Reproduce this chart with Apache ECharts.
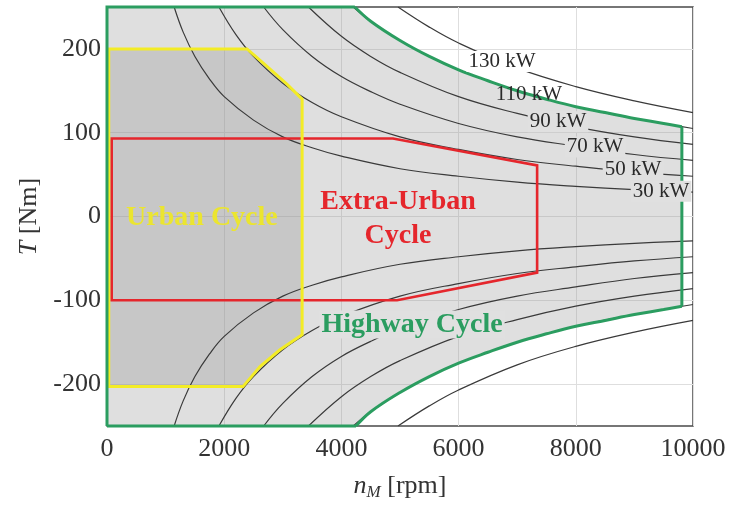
<!DOCTYPE html>
<html>
<head>
<meta charset="utf-8">
<script src="https://cdn.jsdelivr.net/npm/echarts@6/dist/echarts.min.js"></script>
<style>
html,body{margin:0;padding:0;background:#fff;}
#chart{width:732px;height:506px;}
</style>
</head>
<body>
<div id="chart"></div>
<script>
// ---------- data ----------
const xTickValues = [0, 2000, 4000, 6000, 8000, 10000];
const yTickValues = [-200, -100, 0, 100, 200];

// constant-power contour lines [speed rpm, torque Nm]
const p30Upper  = [[1146,250],[1300,220],[1500,191],[1750,164],[2000,143],[2500,115],[3000,95],[3500,82],[4000,72],[5000,57],[6000,48],[7000,41],[8000,36],[9000,32],[10000,29]];
const p50Upper  = [[1910,250],[2200,217],[2500,191],[3000,159],[3500,136],[4000,119],[5000,95],[6000,80],[7000,68],[8000,60],[9000,53],[10000,48]];
const p70Upper  = [[2674,250],[3000,223],[3500,191],[4000,167],[4500,149],[5000,134],[6000,111],[7000,95],[8000,84],[9000,74],[10000,67]];
const p90Upper  = [[3438,250],[4000,215],[4500,191],[5000,172],[6000,143],[7000,123],[8000,107],[9000,95],[10000,86]];
const p110Upper = [[4202,250],[4500,233],[5000,210],[5500,191],[6000,175],[7000,150],[8000,131],[9000,117],[10000,105]];
const p130Upper = [[4966,250],[5500,226],[6000,207],[7000,177],[8000,155],[9000,138],[10000,124]];
const p30Lower  = [[1146,-250],[1300,-220],[1500,-191],[1750,-164],[2000,-143],[2500,-115],[3000,-95],[3500,-82],[4000,-72],[5000,-57],[6000,-48],[7000,-41],[8000,-36],[9000,-32],[10000,-29]];
const p50Lower  = [[1910,-250],[2200,-217],[2500,-191],[3000,-159],[3500,-136],[4000,-119],[5000,-95],[6000,-80],[7000,-68],[8000,-60],[9000,-53],[10000,-48]];
const p70Lower  = [[2674,-250],[3000,-223],[3500,-191],[4000,-167],[4500,-149],[5000,-134],[6000,-111],[7000,-95],[8000,-84],[9000,-74],[10000,-67]];
const p90Lower  = [[3438,-250],[4000,-215],[4500,-191],[5000,-172],[6000,-143],[7000,-123],[8000,-107],[9000,-95],[10000,-86]];
const p110Lower = [[4202,-250],[4500,-233],[5000,-210],[5500,-191],[6000,-175],[7000,-150],[8000,-131],[9000,-117],[10000,-105]];
const p130Lower = [[4966,-250],[5500,-226],[6000,-207],[7000,-177],[8000,-155],[9000,-138],[10000,-124]];

const powerLabels = ['130 kW', '110 kW', '90 kW', '70 kW', '50 kW', '30 kW'];
const powerLabelAnchors = [[6741,185],[7201,146],[7696,113],[8328,83],[8976,56],[9454,30]];

// operating regions [rpm, Nm]
const highwayUpperEdge = [[4230,250],[4500,233],[5000,210],[5500,191],[6000,175],[6500,162],[7000,150],[7500,140],[8000,131],[8500,124],[9000,117],[9500,111],[9810,107]];
const highwayLowerEdge = [[4250,-250],[4500,-233],[5000,-210],[5500,-191],[6000,-175],[6500,-162],[7000,-150],[7500,-140],[8000,-131],[8500,-124],[9000,-117],[9500,-111],[9810,-107]];
const highwayCorners = [[0,250],[0,-250]];
const urbanRegion = [[30,200],[2390,200],[2730,179],[3070,158],[3330,140],[3330,-141],[2952,-159],[2611,-179],[2320,-203],[30,-203]];
const extraUrbanRegion = [[80,93],[4880,93],[7340,61],[7340,-67],[4950,-100],[80,-100]];

const cycleLabels = ['Urban Cycle', 'Extra-Urban', 'Cycle', 'Highway Cycle'];
const cycleLabelAnchors = [[1620,-2],[4966,18],[4966,-23],[5205,-129]];

// ---------- derived shapes ----------
const highwayRegion = [highwayCorners[0]].concat(highwayUpperEdge, highwayLowerEdge.slice().reverse(), [highwayCorners[1]]);
const highwayStraightParts = [
  [highwayCorners[1], highwayCorners[0], highwayUpperEdge[0]],
  [highwayUpperEdge[highwayUpperEdge.length - 1], highwayLowerEdge[highwayLowerEdge.length - 1]],
  [highwayLowerEdge[0], highwayCorners[1]]
];

// ---------- styles ----------
const SERIF = "'Liberation Serif', 'DejaVu Serif', serif";
const LIGHT = '#e0e0e0';
const YELLOW = '#f3ec26';
const RED = '#e5262c';
const GREEN = '#2b9d60';
const cycleColors = ['#ebe530', RED, RED, GREEN];

function shapeSeries(shapeType, pts, style, z) {
  return {
    type: 'custom', z: z, silent: true,
    data: pts, encode: { x: 0, y: 1 },
    renderItem: function (params, api) {
      if (params.dataIndex !== 0) return null;
      const coords = pts.map(function (p) { return api.coord(p); });
      return { type: shapeType, shape: { points: coords }, style: style };
    }
  };
}
function curve(data, color, width, z) {
  return {
    type: 'line', data: data, showSymbol: false, symbol: 'none', smooth: 0.4, silent: true, z: z,
    lineStyle: { color: color, width: width }
  };
}
function textSeries(texts, anchors, styleFn, z) {
  return {
    type: 'custom', z: z, silent: true,
    data: anchors, encode: { x: 0, y: 1 },
    renderItem: function (params, api) {
      const c = api.coord(anchors[params.dataIndex]);
      return {
        type: 'text', x: c[0], y: c[1],
        style: Object.assign({ text: texts[params.dataIndex], align: 'center', verticalAlign: 'middle' }, styleFn(params.dataIndex))
      };
    }
  };
}

const CONTOUR = '#3a3a3a';
const series = [
  shapeSeries('polygon', highwayRegion, { fill: 'rgba(150,150,150,0.30)', stroke: 'none' }, 1),
  shapeSeries('polygon', urbanRegion, { fill: 'rgba(150,150,150,0.32)', stroke: 'none' }, 2)
];
[p30Upper, p50Upper, p70Upper, p90Upper, p110Upper, p130Upper, p30Lower, p50Lower, p70Lower, p90Lower, p110Lower, p130Lower]
  .forEach(function (d) { series.push(curve(d, CONTOUR, 1.2, 4)); });
series.push(shapeSeries('polygon', extraUrbanRegion, { fill: 'none', stroke: RED, lineWidth: 2.6 }, 6));
series.push(shapeSeries('polygon', urbanRegion, { fill: 'none', stroke: YELLOW, lineWidth: 3 }, 7));
series.push(curve(highwayUpperEdge, GREEN, 3, 8));
series.push(curve(highwayLowerEdge, GREEN, 3, 8));
highwayStraightParts.forEach(function (part) {
  series.push(shapeSeries('polyline', part, { fill: 'none', stroke: GREEN, lineWidth: 3 }, 8));
});
series.push(textSeries(powerLabels, powerLabelAnchors, function (i) {
  return {
    font: '21px ' + SERIF, fill: '#2a2a2a',
    backgroundColor: i === 0 ? '#ffffff' : (i === 1 ? null : LIGHT), padding: [0, 2, 0, 2]
  };
}, 10));
series.push(textSeries(cycleLabels, cycleLabelAnchors, function (i) {
  return {
    font: 'bold 28px ' + SERIF, fill: cycleColors[i],
    backgroundColor: i === 3 ? LIGHT : null, padding: [0, 2, 0, 2]
  };
}, 11));

const chart = echarts.init(document.getElementById('chart'), null, { renderer: 'canvas' });
chart.setOption({
  animation: false,
  backgroundColor: '#ffffff',
  grid: { left: 107, right: 39, top: 7, bottom: 76, show: true, borderColor: '#4a4a4a', borderWidth: 1.5, backgroundColor: '#ffffff' },
  xAxis: {
    type: 'value', min: 0, max: 10000, interval: 2000,
    axisLine: { show: false }, axisTick: { show: false },
    axisLabel: { customValues: xTickValues, formatter: function (v) { return String(v); }, fontFamily: SERIF, fontSize: 26, color: '#333', margin: 10 },
    splitLine: { show: true, lineStyle: { color: '#dedede', width: 1 } },
    name: '{i|n}{sub|M} [rpm]', nameLocation: 'middle', nameGap: 46,
    nameTextStyle: {
      fontFamily: SERIF, fontSize: 26, color: '#333',
      rich: {
        i: { fontFamily: SERIF, fontSize: 26, fontStyle: 'italic', color: '#333' },
        sub: { fontFamily: SERIF, fontSize: 17, fontStyle: 'italic', color: '#333', padding: [12, 0, 0, 0] }
      }
    }
  },
  yAxis: {
    type: 'value', min: -250, max: 250,
    axisLine: { show: false },
    axisTick: { show: false, customValues: yTickValues },
    axisLabel: { customValues: yTickValues, formatter: function (v) { return String(v); }, fontFamily: SERIF, fontSize: 26, color: '#333', margin: 6 },
    splitLine: { show: true, lineStyle: { color: '#dedede', width: 1 } },
    name: '{i|T} [Nm]', nameLocation: 'middle', nameGap: 63, nameRotate: 90,
    nameTextStyle: {
      fontFamily: SERIF, fontSize: 26, color: '#333',
      rich: { i: { fontFamily: SERIF, fontSize: 26, fontStyle: 'italic', color: '#333' } }
    }
  },
  series: series
});
</script>
</body>
</html>
